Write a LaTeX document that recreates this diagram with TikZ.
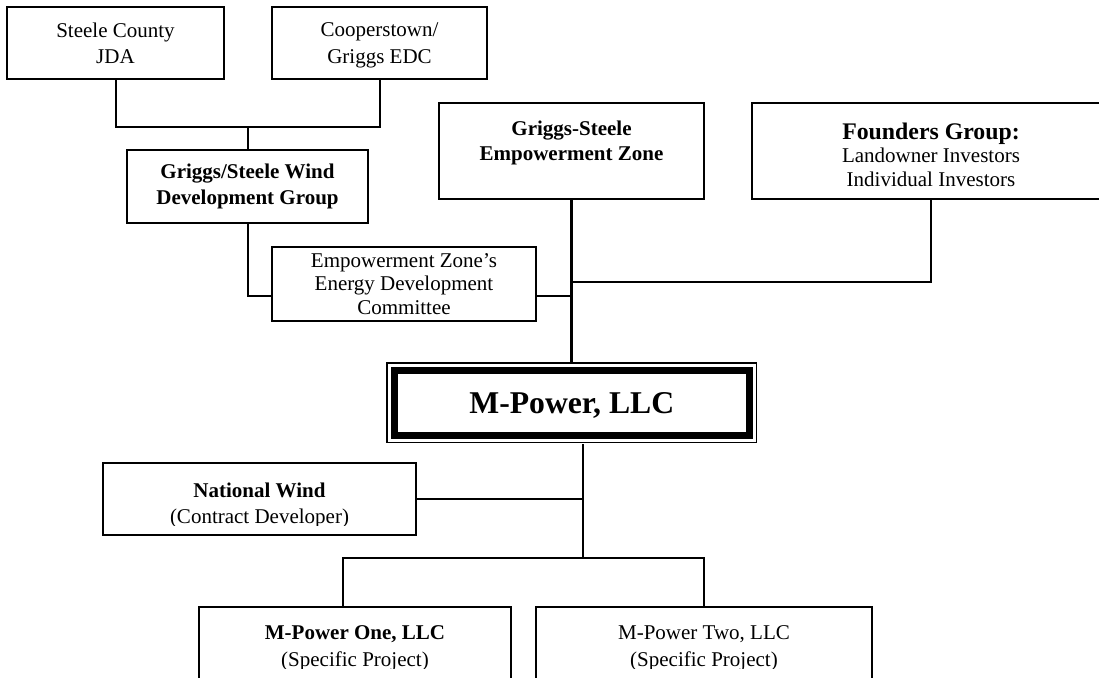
\documentclass[tikz,border=0pt]{standalone}
\usepackage{fontspec}
\setmainfont{Liberation Serif}
\usepackage{tikz}
\usetikzlibrary{positioning,calc}

\newcommand{\txtfont}{\fontsize{21}{26.5}\selectfont}
\newcommand{\mpfont}{\fontsize{31.7}{36}\selectfont\bfseries}

\begin{document}
\begin{tikzpicture}[x=1pt, y=-1pt,
    orgbox/.style={rectangle, draw, line width=2pt, outer sep=0pt, inner sep=0pt, align=center, font=\txtfont},
    conn/.style={line width=2pt},
    thickconn/.style={line width=3pt}]

    \useasboundingbox (0,0) rectangle (1099,677);
    \clip (0,0) rectangle (1099,677);

    % top row
    \node[orgbox, minimum width=217, minimum height=72, text depth=-3pt] (jda) at (115.5,43) {Steele County\\JDA};
    \node[orgbox, minimum width=215, minimum height=72, text depth=-3pt] (coop) at (379.5,43) {Cooperstown/\\Griggs EDC};
    \node[orgbox, minimum width=241, minimum height=73, font=\txtfont\bfseries] (gswdg) at (247.5,186.5) {Griggs/Steele Wind\\Development Group};
    \node[orgbox, minimum width=264, minimum height=74, font=\fontsize{21}{23.5}\selectfont, text depth=-1pt] (edc) at (404,284) {Empowerment Zone’s\\Energy Development\\Committee};
    \node[orgbox, minimum width=265, minimum height=96, font=\fontsize{21}{25.5}\selectfont\bfseries, text depth=21pt] (gsez) at (571.5,151) {Griggs-Steele\\Empowerment Zone};
    \node[orgbox, minimum width=358, minimum height=96, font=\fontsize{21}{23.5}\selectfont, text height=70pt, text depth=0pt] (fg) at (931,151) {{\fontsize{23.8}{24}\selectfont\bfseries Founders Group:}\\Landowner Investors\\Individual Investors};

    % main company
    \node[orgbox, line width=7pt, minimum width=355.5, minimum height=65.5, font=\mpfont, text depth=0pt] (mp) at (571.75,402.75) {M-Power, LLC};
    \draw[line width=1.2pt] ([xshift=-7pt,yshift=7pt]mp.north west) rectangle ([xshift=7pt,yshift=-7pt]mp.south east);

    % lower boxes, text clipped inside
    \node[orgbox, minimum width=313, minimum height=72] (nw) at (259.5,499) {};
    \node[orgbox, minimum width=312, minimum height=90] (mp1) at (355,652) {};
    \node[orgbox, minimum width=336, minimum height=90] (mp2) at (704,652) {};
    \begin{scope}
        \clip (nw.north west) rectangle (nw.east |- 0,525);
        \node[align=center, font=\fontsize{21}{26}\selectfont] (nwt) at (259.5,505) {\textbf{National Wind}\\(Contract Developer)};
    \end{scope}
    \begin{scope}
        \clip (mp1.north west) rectangle (mp2.east |- 0,668);
        \node[align=center, font=\fontsize{21}{26.5}\selectfont] (mp1t) at (355,648.5) {\textbf{M-Power One, LLC}\\(Specific Project)};
        \node[align=center, font=\fontsize{21}{26.5}\selectfont] (mp2t) at (704,648.5) {M-Power Two, LLC\\(Specific Project)};
    \end{scope}

    % connectors
    \coordinate (j1) at (247.5,127);
    \coordinate (j2) at (571.5,296);
    \coordinate (j3) at (571.5,282);
    \coordinate (mptop) at (571.5,363);
    \coordinate (mpbot) at (583,444);
    \coordinate (j4) at (583,558);

    \draw[conn] (jda.south) |- (j1) -| (coop.south);
    \draw[conn] (j1) -- (gswdg.north);
    \draw[conn] (gswdg.south) |- ([yshift=-12pt]edc.west);
    \draw[conn] ([yshift=-12pt]edc.east) -- (j2);
    \draw[conn] (fg.south) |- (j3);
    \draw[thickconn] (gsez.south) -- (mptop);
    \draw[conn] (mpbot) -- (j4);
    \draw[conn] (nw.east) -- (nw.east -| j4);
    \draw[conn] ([xshift=-12pt]mp1.north) |- (j4) -| (mp2.north);

\end{tikzpicture}
\end{document}
